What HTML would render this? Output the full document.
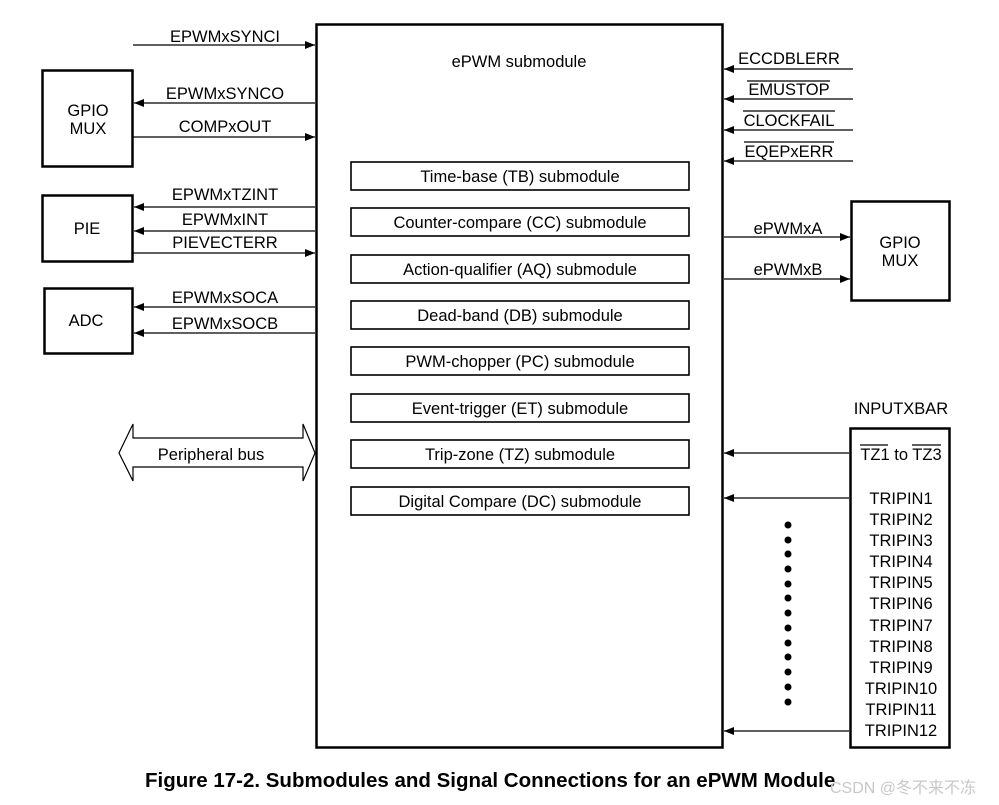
<!DOCTYPE html>
<html><head><meta charset="utf-8"><style>
html,body{margin:0;padding:0;background:#fff;}
svg{display:block;}
text{font-family:"Liberation Sans",Arial,sans-serif;font-size:16.5px;fill:#000;}
</style></head><body>
<svg width="999" height="805" viewBox="0 0 999 805" xmlns="http://www.w3.org/2000/svg">
<defs>
<marker id="a" viewBox="0 0 10 10" refX="10" refY="5" markerWidth="10" markerHeight="10" markerUnits="userSpaceOnUse" orient="auto"><path d="M0,1 L10,5 L0,9 z" fill="#000"/></marker>
</defs>
<g fill="none" stroke="#000">
<rect x="316.5" y="24.5" width="406" height="723" stroke-width="2.5"/>
<rect x="42.5" y="70.5" width="90" height="96" stroke-width="2.5"/>
<rect x="42.5" y="195.5" width="90" height="66" stroke-width="2.5"/>
<rect x="44.5" y="288.5" width="88" height="65" stroke-width="2.5"/>
<rect x="851.5" y="201.5" width="98" height="99" stroke-width="2.5"/>
<rect x="850.5" y="428.5" width="99" height="319" stroke-width="2.5"/>
<g stroke-width="1.6">
<rect x="351" y="162" width="338" height="28"/>
<rect x="351" y="208" width="338" height="28"/>
<rect x="351" y="255" width="338" height="28"/>
<rect x="351" y="301" width="338" height="28"/>
<rect x="351" y="347" width="338" height="28"/>
<rect x="351" y="394" width="338" height="28"/>
<rect x="351" y="440" width="338" height="28"/>
<rect x="351" y="487" width="338" height="28"/>
</g>
<g stroke-width="1.2">
<line x1="133" y1="45" x2="315" y2="45" marker-end="url(#a)"/>
<line x1="315" y1="103" x2="134" y2="103" marker-end="url(#a)"/>
<line x1="133" y1="137" x2="315" y2="137" marker-end="url(#a)"/>
<line x1="315" y1="207" x2="134" y2="207" marker-end="url(#a)"/>
<line x1="315" y1="231" x2="134" y2="231" marker-end="url(#a)"/>
<line x1="133" y1="253" x2="315" y2="253" marker-end="url(#a)"/>
<line x1="315" y1="307" x2="134" y2="307" marker-end="url(#a)"/>
<line x1="315" y1="333" x2="134" y2="333" marker-end="url(#a)"/>
<line x1="853" y1="69" x2="724" y2="69" marker-end="url(#a)"/>
<line x1="853" y1="99" x2="724" y2="99" marker-end="url(#a)"/>
<line x1="853" y1="130" x2="724" y2="130" marker-end="url(#a)"/>
<line x1="853" y1="161" x2="724" y2="161" marker-end="url(#a)"/>
<line x1="724" y1="237" x2="850" y2="237" marker-end="url(#a)"/>
<line x1="724" y1="279" x2="850" y2="279" marker-end="url(#a)"/>
<line x1="849" y1="453" x2="724" y2="453" marker-end="url(#a)"/>
<line x1="849" y1="498" x2="724" y2="498" marker-end="url(#a)"/>
<line x1="849" y1="731" x2="724" y2="731" marker-end="url(#a)"/>
<path d="M119,453 L133,424 L133,438 L303,438 L303,424 L315,453 L303,481 L303,467 L133,467 L133,481 Z"/>
<line x1="747" y1="81" x2="830" y2="81"/>
<line x1="743" y1="111" x2="835" y2="111"/>
<line x1="744" y1="142" x2="834" y2="142"/>
<line x1="860" y1="445" x2="888" y2="445"/>
<line x1="912" y1="445" x2="941" y2="445"/>
</g>
</g>
<g fill="#000">
<circle cx="788" cy="525" r="3.5"/><circle cx="788" cy="540" r="3.5"/><circle cx="788" cy="554" r="3.5"/><circle cx="788" cy="569" r="3.5"/><circle cx="788" cy="584" r="3.5"/><circle cx="788" cy="598" r="3.5"/><circle cx="788" cy="613" r="3.5"/><circle cx="788" cy="628" r="3.5"/><circle cx="788" cy="643" r="3.5"/><circle cx="788" cy="657" r="3.5"/><circle cx="788" cy="672" r="3.5"/><circle cx="788" cy="687" r="3.5"/><circle cx="788" cy="702" r="3.5"/>
</g>
<g text-anchor="middle">
<text x="519" y="67">ePWM submodule</text>
<text x="520" y="182">Time-base (TB) submodule</text>
<text x="520" y="228">Counter-compare (CC) submodule</text>
<text x="520" y="275">Action-qualifier (AQ) submodule</text>
<text x="520" y="321">Dead-band (DB) submodule</text>
<text x="520" y="367">PWM-chopper (PC) submodule</text>
<text x="520" y="414">Event-trigger (ET) submodule</text>
<text x="520" y="460">Trip-zone (TZ) submodule</text>
<text x="520" y="507">Digital Compare (DC) submodule</text>
<text x="88" y="116">GPIO</text><text x="88" y="134">MUX</text>
<text x="87" y="234">PIE</text>
<text x="86" y="326">ADC</text>
<text x="900" y="248">GPIO</text><text x="900" y="266">MUX</text>
<text x="225" y="42">EPWMxSYNCI</text>
<text x="225" y="99">EPWMxSYNCO</text>
<text x="225" y="132">COMPxOUT</text>
<text x="225" y="200">EPWMxTZINT</text>
<text x="225" y="225">EPWMxINT</text>
<text x="225" y="248">PIEVECTERR</text>
<text x="225" y="303">EPWMxSOCA</text>
<text x="225" y="329">EPWMxSOCB</text>
<text x="211" y="460">Peripheral bus</text>
<text x="789" y="64">ECCDBLERR</text>
<text x="789" y="95">EMUSTOP</text>
<text x="789" y="126">CLOCKFAIL</text>
<text x="789" y="157">EQEPxERR</text>
<text x="788" y="234">ePWMxA</text>
<text x="788" y="275">ePWMxB</text>
<text x="901" y="414">INPUTXBAR</text>
<text x="901" y="460">TZ1 to TZ3</text>
<text x="901" y="504">TRIPIN1</text>
<text x="901" y="525">TRIPIN2</text>
<text x="901" y="546">TRIPIN3</text>
<text x="901" y="567">TRIPIN4</text>
<text x="901" y="588">TRIPIN5</text>
<text x="901" y="609">TRIPIN6</text>
<text x="901" y="631">TRIPIN7</text>
<text x="901" y="652">TRIPIN8</text>
<text x="901" y="673">TRIPIN9</text>
<text x="901" y="694">TRIPIN10</text>
<text x="901" y="715">TRIPIN11</text>
<text x="901" y="736">TRIPIN12</text>
</g>
<text x="145" y="787" style="font-weight:bold;font-size:20.5px">Figure 17-2. Submodules and Signal Connections for an ePWM Module</text>
<text x="830" y="793" style="font-size:16px;fill:#c8c8c8;font-family:'Liberation Sans','Noto Sans CJK SC',sans-serif">CSDN @冬不来不冻</text>
</svg>
</body></html>
